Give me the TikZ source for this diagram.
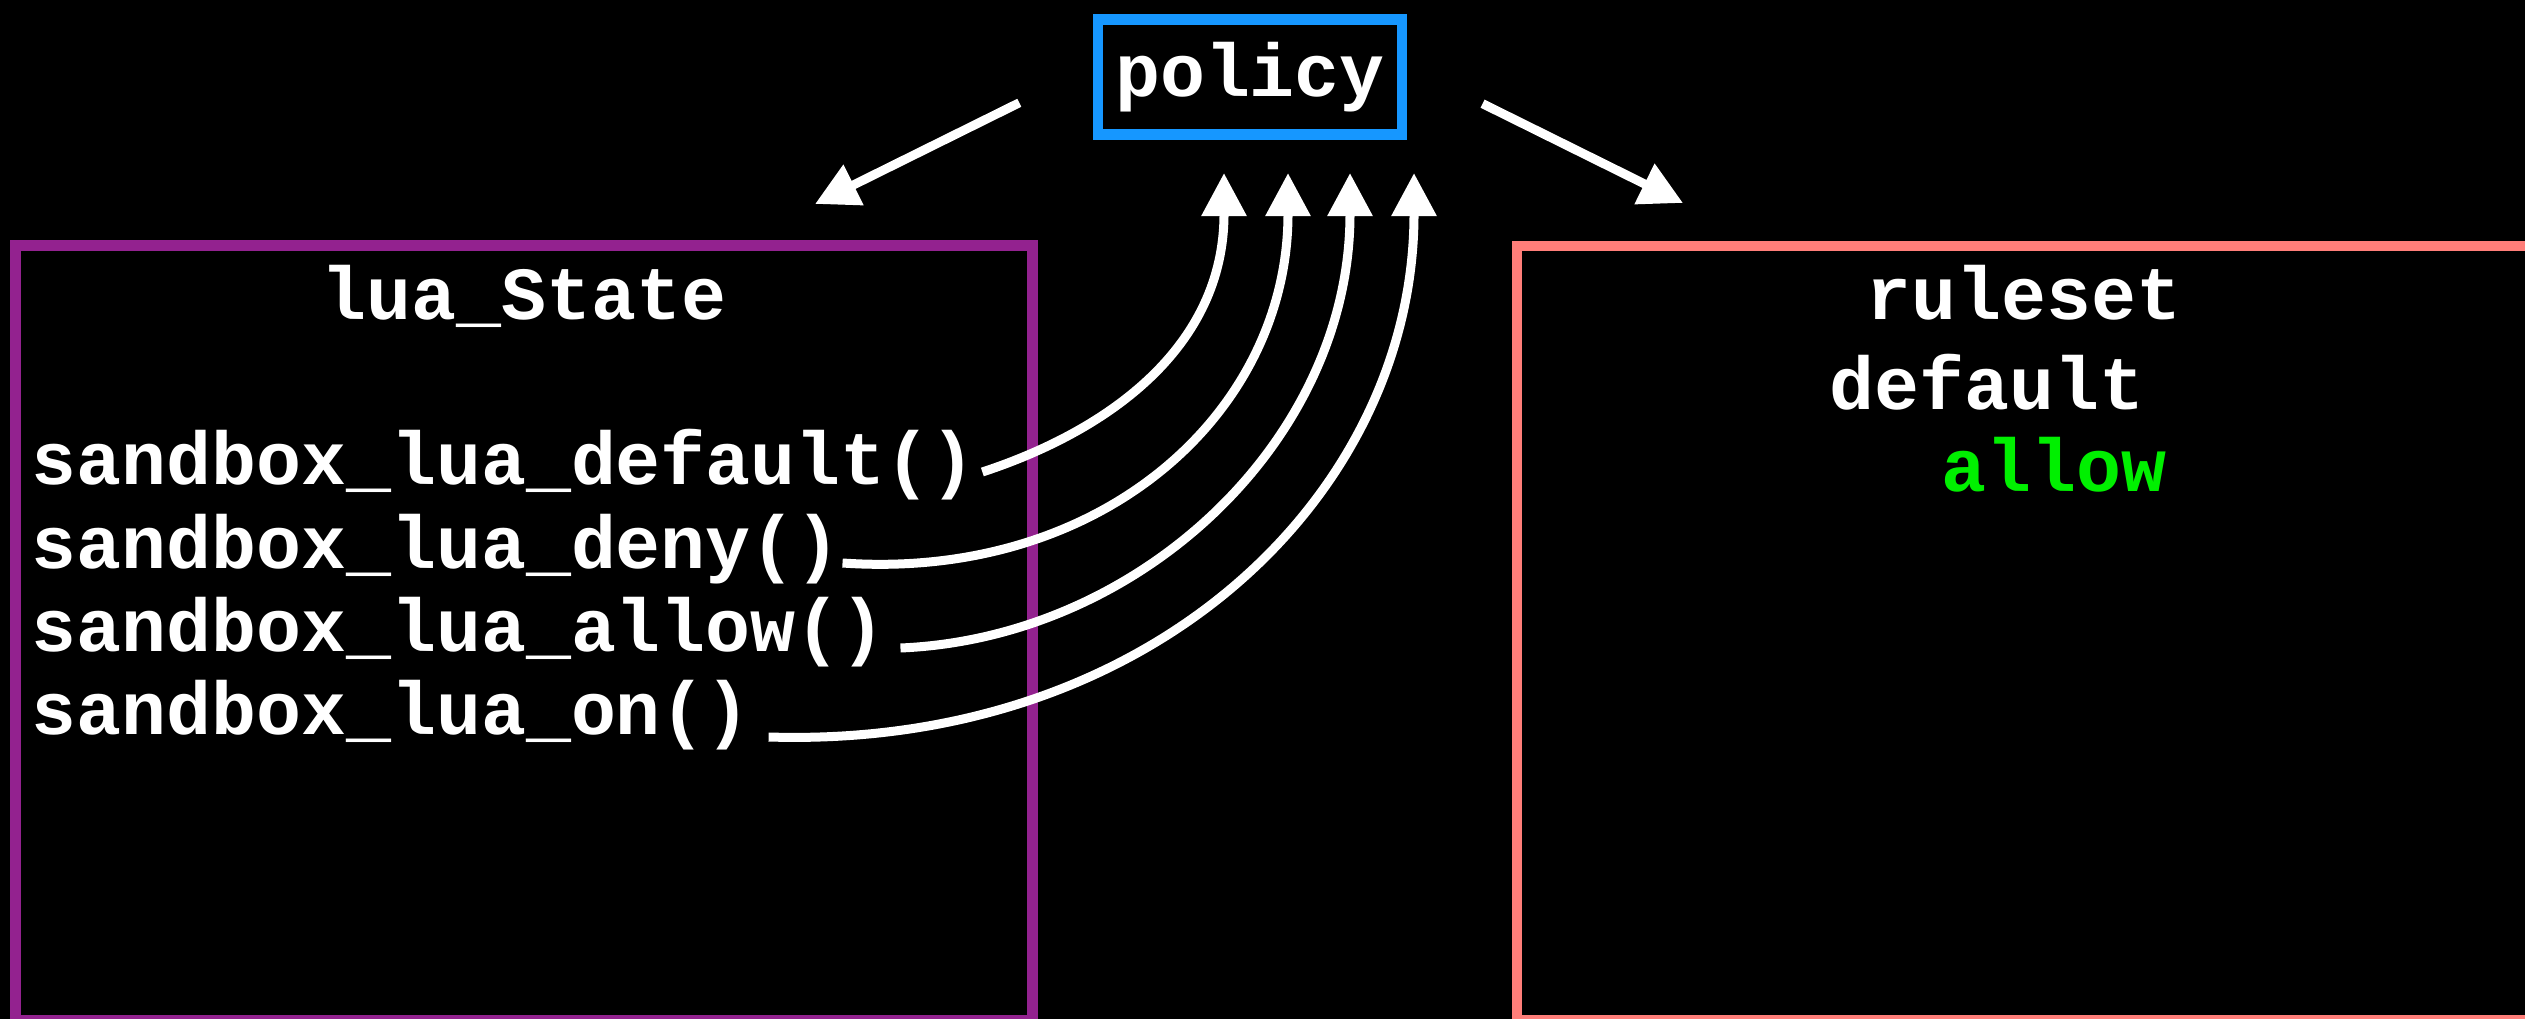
\documentclass[tikz,border=0pt]{standalone}
\usepackage{fontspec}
\setmonofont{Liberation Mono}
\usepackage{xcolor}
\usepackage{tikz}
\usetikzlibrary{arrows.meta}
\definecolor{luaPurple}{HTML}{93228F}
\definecolor{policyBlue}{HTML}{1697FF}
\definecolor{ruleSalmon}{HTML}{FF7E79}
\definecolor{allowGreen}{HTML}{00F000}
\tikzset{
  code/.style={font=\ttfamily\bfseries\fontsize{21.3pt}{25pt}\selectfont,
               text=white,inner sep=0pt},
  fncall/.style={code,anchor=base west},
  scopebox/.style={draw,line width=1.05mm,minimum width=10.165cm,
                   minimum height=7.74cm,anchor=north west,inner sep=0pt,
                   outer sep=0pt},
  flow/.style={-{Triangle[length=4.3mm,width=4.3mm]},line width=0.9mm,white}
}

\begin{document}
\begin{tikzpicture}[x=0.01cm,y=-0.01cm]
    \fill[black] (0,0) rectangle (2525,1019);
    \useasboundingbox (0,0) rectangle (2525,1019);

    % the two halves
    \node[scopebox,draw=luaPurple] (state) at (15.5,245.5) {};
    \node[scopebox,draw=ruleSalmon] (rules) at (1517,246) {};

    \node[code,draw=policyBlue,line width=1.05mm,minimum width=3.035cm,
          minimum height=1.145cm,outer sep=0pt] (policy) at (1250,77) {policy};

    % lua side
    \node[code,anchor=base] (stateTitle) at (524,320) {lua\_State};
    \node[fncall] (dflt) at (31,485) {sandbox\_lua\_default()};
    \node[fncall] (deny) at (31,568) {sandbox\_lua\_deny()};
    \node[fncall] (allow) at (31,651) {sandbox\_lua\_allow()};
    \node[fncall] (on) at (31,734) {sandbox\_lua\_on()};

    % ruleset side
    \node[code,anchor=base] (rulesTitle) at (2024,320) {ruleset};
    \node[fncall] (rulesDefault) at (1829,410) {default};
    \node[fncall,text=allowGreen] (rulesAllow) at (1941,492) {allow};

    % policy hands out to both sides
    \coordinate (toState) at (815,204);
    \coordinate (toRules) at (1683,203);
    \draw[flow,shorten <=8.8mm] (policy.175) -- (toState);
    \draw[flow,shorten <=9mm] (policy.5) -- (toRules);

    % calls feeding the policy
    \coordinate (in1) at (1224,173);
    \coordinate (in2) at (1288,173);
    \coordinate (in3) at (1350,173);
    \coordinate (in4) at (1414,173);
    \draw[flow] ([shift={(6,-13)}]dflt.base east)
      .. controls +(128,-42) and +(0,173) .. (in1);
    \draw[flow] ([shift={(1,-5)}]deny.base east)
      .. controls +(260,18) and +(0,239) .. (in2);
    \draw[flow] ([shift={(14,-3)}]allow.base east)
      .. controls +(240,-10) and +(0,267) .. (in3);
    \draw[flow] ([shift={(17,3)}]on.base east)
      .. controls +(385,12) and +(0,320) .. (in4);
\end{tikzpicture}
\end{document}
